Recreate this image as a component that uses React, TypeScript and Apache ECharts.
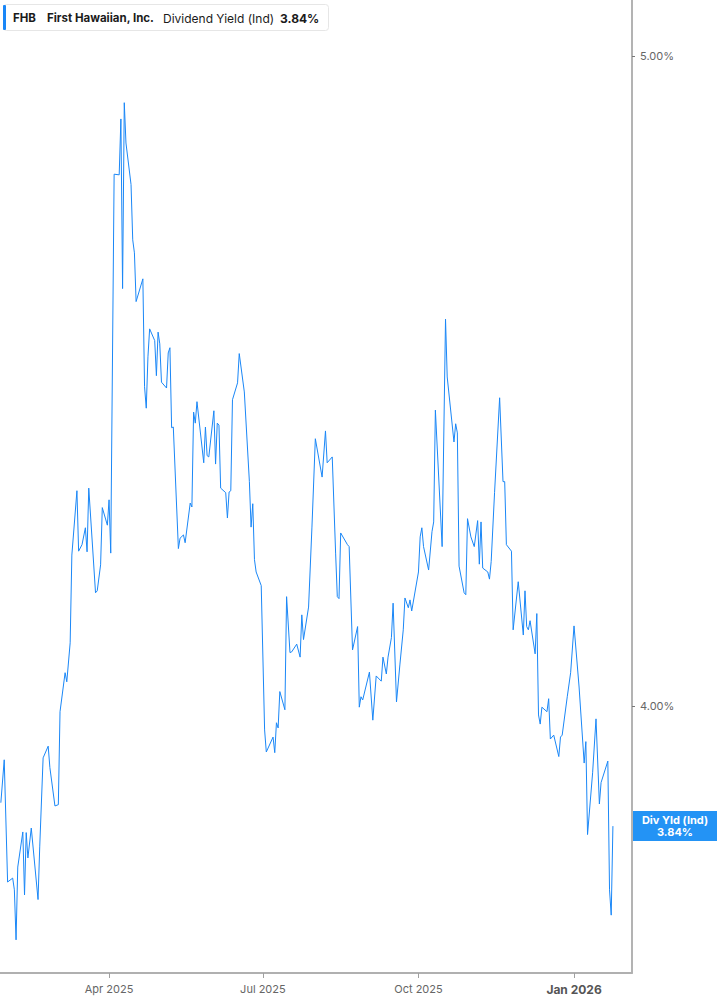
import { useEffect, useRef } from "react";
import * as echarts from "echarts";

const ticker = "FHB";
const company = "First Hawaiian, Inc.";
const metric = "Dividend Yield (Ind)";
const latestYield = 3.84;

const dates = [
  "2025-01-27", "2025-01-29", "2025-01-31", "2025-02-03", "2025-02-04", "2025-02-05", "2025-02-06",
  "2025-02-09", "2025-02-10", "2025-02-11", "2025-02-12", "2025-02-14", "2025-02-18", "2025-02-19",
  "2025-02-21", "2025-02-24", "2025-02-25", "2025-02-28", "2025-03-02", "2025-03-03", "2025-03-06",
  "2025-03-07", "2025-03-09", "2025-03-10", "2025-03-13", "2025-03-14", "2025-03-16", "2025-03-18",
  "2025-03-19", "2025-03-20", "2025-03-24", "2025-03-25", "2025-03-27", "2025-03-28", "2025-03-31",
  "2025-04-01", "2025-04-02", "2025-04-04", "2025-04-07", "2025-04-08", "2025-04-09", "2025-04-10",
  "2025-04-11", "2025-04-14", "2025-04-15", "2025-04-16", "2025-04-17", "2025-04-21", "2025-04-22",
  "2025-04-23", "2025-04-24", "2025-04-25", "2025-04-28", "2025-04-29", "2025-04-30", "2025-05-01",
  "2025-05-02", "2025-05-05", "2025-05-06", "2025-05-07", "2025-05-08", "2025-05-09", "2025-05-12",
  "2025-05-13", "2025-05-15", "2025-05-16", "2025-05-19", "2025-05-20", "2025-05-21", "2025-05-22",
  "2025-05-23", "2025-05-27", "2025-05-28", "2025-05-29", "2025-05-30", "2025-06-02", "2025-06-03",
  "2025-06-04", "2025-06-05", "2025-06-06", "2025-06-09", "2025-06-10", "2025-06-11", "2025-06-12",
  "2025-06-13", "2025-06-16", "2025-06-17", "2025-06-20", "2025-06-23", "2025-06-24", "2025-06-25",
  "2025-06-26", "2025-06-27", "2025-06-30", "2025-07-02", "2025-07-03", "2025-07-07", "2025-07-08",
  "2025-07-09", "2025-07-10", "2025-07-11", "2025-07-14", "2025-07-15", "2025-07-17", "2025-07-18",
  "2025-07-21", "2025-07-23", "2025-07-24", "2025-07-25", "2025-07-28", "2025-07-30", "2025-08-01",
  "2025-08-05", "2025-08-07", "2025-08-08", "2025-08-11", "2025-08-13", "2025-08-14", "2025-08-15",
  "2025-08-16", "2025-08-20", "2025-08-21", "2025-08-23", "2025-08-26", "2025-08-27", "2025-08-28",
  "2025-08-29", "2025-09-02", "2025-09-04", "2025-09-06", "2025-09-09", "2025-09-10", "2025-09-12",
  "2025-09-13", "2025-09-15", "2025-09-16", "2025-09-18", "2025-09-20", "2025-09-22", "2025-09-23",
  "2025-09-25", "2025-09-26", "2025-09-27", "2025-10-01", "2025-10-02", "2025-10-03", "2025-10-04",
  "2025-10-07", "2025-10-09", "2025-10-10", "2025-10-11", "2025-10-15", "2025-10-17", "2025-10-18",
  "2025-10-22", "2025-10-23", "2025-10-24", "2025-10-25", "2025-10-28", "2025-10-29", "2025-10-30",
  "2025-11-01", "2025-11-03", "2025-11-05", "2025-11-06", "2025-11-07", "2025-11-08", "2025-11-11",
  "2025-11-12", "2025-11-13", "2025-11-15", "2025-11-18", "2025-11-20", "2025-11-21", "2025-11-22",
  "2025-11-25", "2025-11-26", "2025-11-29", "2025-12-02", "2025-12-03", "2025-12-04", "2025-12-05",
  "2025-12-06", "2025-12-09", "2025-12-10", "2025-12-11", "2025-12-12", "2025-12-13", "2025-12-16",
  "2025-12-17", "2025-12-18", "2025-12-20", "2025-12-23", "2025-12-24", "2025-12-25", "2025-12-28",
  "2025-12-30", "2026-01-01", "2026-01-04", "2026-01-07", "2026-01-08", "2026-01-09", "2026-01-12",
  "2026-01-14", "2026-01-16", "2026-01-17", "2026-01-21", "2026-01-22", "2026-01-23", "2026-01-24",
];

const yields = [
  3.851, 3.917, 3.729, 3.735, 3.717, 3.640, 3.752,
  3.806, 3.709, 3.805, 3.766, 3.812, 3.702, 3.783,
  3.920, 3.938, 3.905, 3.846, 3.848, 3.991, 4.051,
  4.037, 4.097, 4.232, 4.331, 4.238, 4.248, 4.274,
  4.237, 4.335, 4.174, 4.177, 4.217, 4.305, 4.278,
  4.317, 4.235, 4.818, 4.817, 4.903, 4.642, 4.928,
  4.866, 4.802, 4.717, 4.697, 4.622, 4.657, 4.491,
  4.458, 4.537, 4.580, 4.562, 4.508, 4.575, 4.557,
  4.498, 4.489, 4.543, 4.551, 4.428, 4.429, 4.242,
  4.258, 4.263, 4.251, 4.312, 4.306, 4.452, 4.435,
  4.468, 4.374, 4.429, 4.385, 4.383, 4.454, 4.372,
  4.435, 4.432, 4.335, 4.328, 4.289, 4.329, 4.331,
  4.471, 4.497, 4.542, 4.483, 4.345, 4.275, 4.311,
  4.225, 4.206, 4.185, 3.963, 3.929, 3.952, 3.928,
  3.974, 3.966, 4.022, 3.994, 4.168, 4.082, 4.083,
  4.095, 4.075, 4.140, 4.102, 4.152, 4.275, 4.411,
  4.352, 4.423, 4.374, 4.383, 4.235, 4.168, 4.165,
  4.266, 4.248, 4.245, 4.086, 4.122, 3.998, 4.014,
  4.009, 4.052, 3.978, 4.046, 4.038, 4.075, 4.049,
  4.075, 4.105, 4.158, 4.006, 4.063, 4.117, 4.166,
  4.151, 4.163, 4.146, 4.206, 4.260, 4.274, 4.245,
  4.209, 4.268, 4.283, 4.455, 4.245, 4.595, 4.506,
  4.406, 4.434, 4.420, 4.215, 4.174, 4.171, 4.288,
  4.260, 4.245, 4.285, 4.218, 4.283, 4.212, 4.206,
  4.195, 4.222, 4.328, 4.474, 4.345, 4.345, 4.248,
  4.238, 4.117, 4.191, 4.109, 4.177, 4.122, 4.117,
  4.131, 4.080, 4.142, 3.986, 3.972, 3.998, 3.991,
  4.011, 3.949, 3.955, 3.922, 3.952, 3.955, 4.014,
  4.051, 4.123, 4.029, 3.912, 3.945, 3.802, 3.897,
  3.980, 3.849, 3.882, 3.915, 3.717, 3.678, 3.815,
];

const quarterTicks = ["2025-04-01", "2025-07-01", "2025-10-01", "2026-01-01"];
const yTicks = [4, 5];
const yMin = 3.589;
const yMax = 5.086;
const xStart = "2025-01-26T12:00";
const xEnd = "2026-02-04T07:00";

const MONTHS = ["Jan", "Feb", "Mar", "Apr", "May", "Jun", "Jul", "Aug", "Sep", "Oct", "Nov", "Dec"];
const BLUE = "#1a87f7";
const FONT = "Inter, 'Noto Sans', sans-serif";

// date string -> local timestamp
function ts(s: string) {
  const [d, t] = s.split("T");
  const [y, m, dd] = d.split("-").map(Number);
  const [hh, mm] = t ? t.split(":").map(Number) : [0, 0];
  return new Date(y, m - 1, dd, hh, mm).getTime();
}

export default function App() {
  const ref = useRef<HTMLDivElement>(null);

  useEffect(() => {
    if (!ref.current) return;
    const chart = echarts.init(ref.current, null, { renderer: "svg" });
    const data = dates.map((d, i) => [ts(d), yields[i]]);
    const xTicks = quarterTicks.map(ts);

    chart.setOption({
      animation: false,
      textStyle: { fontFamily: FONT },
      grid: { left: 0, right: 85, top: 0, bottom: 32, containLabel: false },
      xAxis: {
        type: "value",
        min: ts(xStart),
        max: ts(xEnd),
        axisLine: { show: true, lineStyle: { color: "#b0b0b0", width: 2 } },
        axisTick: {
          show: true,
          length: 5,
          customValues: xTicks,
          lineStyle: { color: "#a0a0a0", width: 1 },
        },
        axisLabel: {
          customValues: xTicks,
          color: "#666",
          fontSize: 11,
          margin: 10,
          formatter: (v: number) => {
            const d = new Date(v);
            const txt = `${MONTHS[d.getMonth()]} ${d.getFullYear()}`;
            return d.getMonth() === 0 ? `{b|${txt}}` : txt;
          },
          rich: { b: { fontWeight: "bold", fontSize: 12, color: "#555", fontFamily: FONT } },
        },
        splitLine: { show: false },
      },
      yAxis: {
        type: "value",
        position: "right",
        min: yMin,
        max: yMax,
        axisLine: { show: true, lineStyle: { color: "#9a9a9a", width: 1.5 } },
        axisTick: {
          show: true,
          length: 3,
          customValues: yTicks,
          lineStyle: { color: "#777" },
        },
        axisLabel: {
          customValues: yTicks,
          color: "#666",
          fontSize: 11,
          margin: 8,
          formatter: (v: number) => `${v.toFixed(2)}%`,
        },
        splitLine: { show: false },
      },
      series: [
        {
          type: "line",
          data,
          showSymbol: false,
          lineStyle: { color: BLUE, width: 1 },
          itemStyle: { color: BLUE },
        },
      ],
    });

    const last = data[data.length - 1];
    const [, py] = chart.convertToPixel({ gridIndex: 0 }, last) as number[];
    const W = ref.current.clientWidth;
    const axisX = W - 85;

    chart.setOption({
      graphic: [
        {
          type: "group",
          left: 3,
          top: 4,
          children: [
            {
              type: "rect",
              shape: { x: 0.5, y: 0.5, width: 325, height: 26, r: 3 },
              style: { fill: "#fff", stroke: "#e6e6e6", lineWidth: 1 },
            },
            {
              type: "rect",
              shape: { x: 0, y: 1, width: 3, height: 25, r: 1 },
              style: { fill: BLUE },
            },
            {
              type: "text",
              x: 10,
              y: 14,
              style: { text: ticker, font: `bold 11.5px ${FONT}`, fill: "#1b1b1b", verticalAlign: "middle" },
            },
            {
              type: "text",
              x: 44,
              y: 14,
              style: { text: company, font: `bold 11.5px ${FONT}`, fill: "#1b1b1b", verticalAlign: "middle" },
            },
            {
              type: "text",
              x: 160,
              y: 14,
              style: { text: metric, font: `12px ${FONT}`, fill: "#1b1b1b", verticalAlign: "middle" },
            },
            {
              type: "text",
              x: 277,
              y: 14,
              style: {
                text: `${latestYield.toFixed(2)}%`,
                font: `bold 12px ${FONT}`,
                fill: "#1b1b1b",
                verticalAlign: "middle",
              },
            },
          ],
        },
        {
          type: "group",
          x: axisX + 1,
          y: py - 15,
          children: [
            {
              type: "rect",
              shape: { x: 0, y: 0, width: W - axisX - 1, height: 30 },
              style: { fill: "#2393f5" },
            },
            {
              type: "text",
              x: (W - axisX - 1) / 2,
              y: 15,
              style: {
                text: `Div Yld (Ind)\n${latestYield.toFixed(2)}%`,
                font: `bold 11px ${FONT}`,
                fill: "#fff",
                align: "center",
                verticalAlign: "middle",
                lineHeight: 12,
              },
            },
          ],
        },
      ],
    });

    return () => chart.dispose();
  }, []);

  return (
    <div
      ref={ref}
      style={{ position: "fixed", left: 0, top: 0, width: 717, height: 1005, background: "#fff" }}
    />
  );
}
